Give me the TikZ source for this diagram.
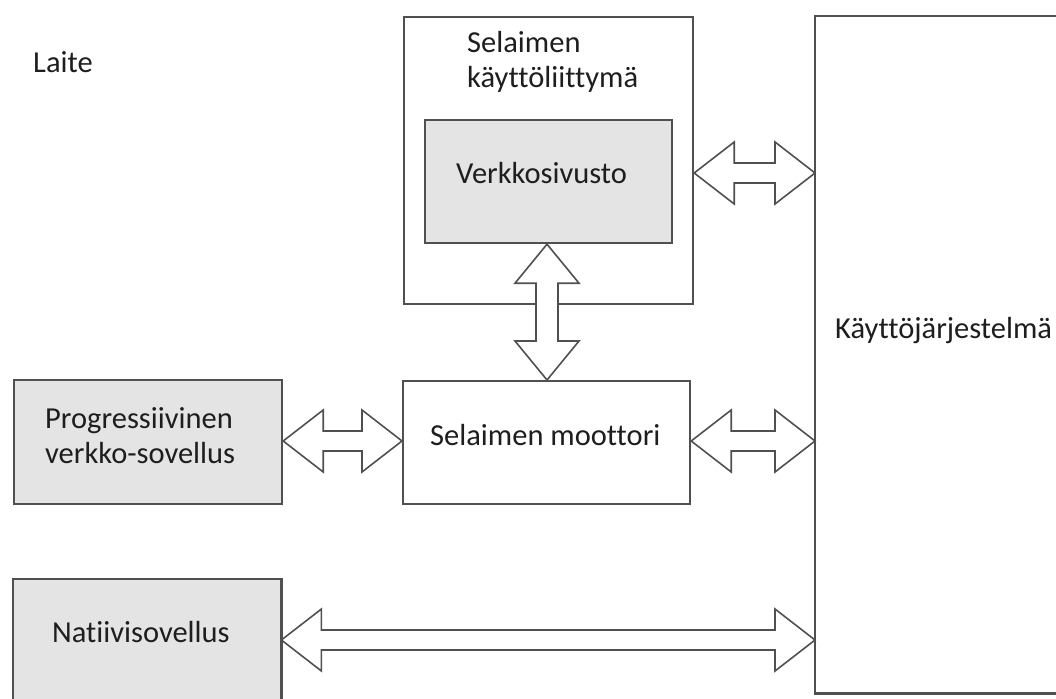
\documentclass[tikz,border=0pt]{standalone}
\usepackage{fontspec}
\setmainfont{Carlito}[Ligatures=NoCommon]
\usetikzlibrary{calc}
\definecolor{edge}{HTML}{505050}
\definecolor{boxgray}{HTML}{E4E4E4}
\definecolor{txt}{HTML}{1E1E1E}
\tikzset{
  box/.style={draw=edge, line width=2.2pt, anchor=north west, inner sep=0pt},
  graybox/.style={box, fill=boxgray},
  lbl/.style={anchor=base west, inner sep=0pt, text=txt, font=\fontsize{30.5}{35}\selectfont},
  blk/.style={draw=edge, line width=1.6pt, fill=white, line join=miter},
}
\newcommand\harrow[2]{%
  \draw[blk] let \p1=(#1), \p2=(#2) in
    (\x1,\y1) -- (\x1+40pt,\y1+31pt) -- (\x1+40pt,\y1+10pt) -- (\x2-40pt,\y1+10pt)
    -- (\x2-40pt,\y1+31pt) -- (\x2,\y1) -- (\x2-40pt,\y1-31pt) -- (\x2-40pt,\y1-10pt)
    -- (\x1+40pt,\y1-10pt) -- (\x1+40pt,\y1-31pt) -- cycle;}
\newcommand\varrow[2]{%
  \draw[blk] let \p1=(#1), \p2=(#2) in
    (\x1,\y1) -- (\x1-32pt,\y1-39pt) -- (\x1-11pt,\y1-39pt) -- (\x1-11pt,\y2+39pt)
    -- (\x1-32pt,\y2+39pt) -- (\x1,\y2) -- (\x1+32pt,\y2+39pt) -- (\x1+11pt,\y2+39pt)
    -- (\x1+11pt,\y1-39pt) -- (\x1+32pt,\y1-39pt) -- cycle;}
\begin{document}
\begin{tikzpicture}[x=1pt,y=-1pt]
\useasboundingbox[fill=white] (0,0) rectangle (1056,698);
% boxes
\node[box, minimum width=289pt, minimum height=287pt] (ui) at (403,16) {};
\node[graybox, minimum width=247pt, minimum height=123pt] (verk) at (424,119) {};
\node[box, minimum width=287pt, minimum height=123pt] (mot) at (402,380) {};
\node[graybox, minimum width=268pt, minimum height=124pt] (pwa) at (13,379) {};
\node[anchor=north west, inner sep=0pt, minimum width=268pt, minimum height=121pt] (nat) at (13,579) {};
\fill[boxgray] (nat.north west) rectangle (nat.south east);
\draw[edge, line width=2.2pt] (nat.south west) -- (nat.north west) -- (nat.north east) -- (nat.south east);
\node[anchor=north west, inner sep=0pt, minimum width=243pt, minimum height=677pt] (os) at (815,16) {};
\draw[edge, line width=2.2pt] (os.north east) -- (os.north west) -- (os.south west) -- (os.south east);
% labels
\node[lbl] (laite) at (33,73) {Laite};
\node[lbl] (uit1) at (467,53) {Selaimen};
\node[lbl] (uit2) at (467,88) {käyttöliittymä};
\node[lbl] (verkt) at (456,183) {Verkkosivusto};
\node[lbl] (mott) at (430,445) {Selaimen moottori};
\node[lbl] (pwat1) at (45,428) {Progressiivinen};
\node[lbl] (pwat2) at (45,463) {verkko-sovellus};
\node[lbl] (natt) at (52,642) {Natiivisovellus};
\node[lbl] (ost) at (835,338) {Käyttöjärjestelmä};
% connector end points
\coordinate (a1) at (ui.east |- 0,173);
\coordinate (b1) at (os.west |- 0,173);
\coordinate (a2) at (547,0 |- verk.south);
\coordinate (b2) at (547,0 |- mot.north);
\coordinate (a3) at (pwa.east |- 0,441);
\coordinate (b3) at (mot.west |- 0,441);
\coordinate (a4) at (mot.east |- 0,441);
\coordinate (b4) at (os.west |- 0,441);
\coordinate (a5) at (nat.east |- 0,640);
\coordinate (b5) at (os.west |- 0,640);
% double block arrows
\harrow{a1}{b1}
\varrow{a2}{b2}
\harrow{a3}{b3}
\harrow{a4}{b4}
\harrow{a5}{b5}
\end{tikzpicture}
\end{document}
